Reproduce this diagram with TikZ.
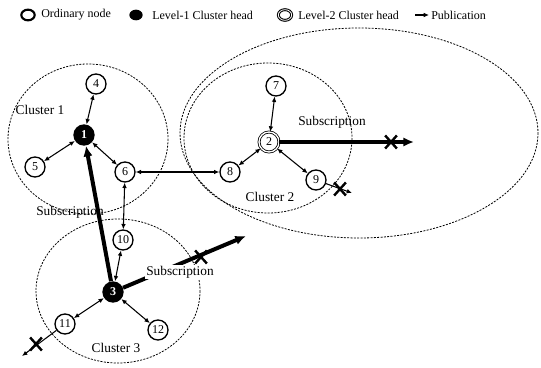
\documentclass[tikz,border=0pt]{standalone}
\usepackage{fontspec}
\setmainfont{Liberation Serif}
\usetikzlibrary{arrows.meta,shapes.misc,shapes.geometric}

\begin{document}
\begin{tikzpicture}[x=0.75pt,y=-0.75pt,
  ordinary/.style={circle,draw,line width=1pt,minimum size=15pt,inner sep=0pt,font=\small},
  headone/.style={circle,fill=black,text=white,minimum size=16pt,inner sep=0pt,font=\small\bfseries},
  headtwo/.style={circle,draw,double,line width=0.6pt,double distance=1pt,minimum size=15pt,inner sep=0pt,font=\small},
  link/.style={{Latex[length=4pt,width=3.5pt]}-{Latex[length=4pt,width=3.5pt]},line width=0.8pt},
  pub/.style={-{Latex[length=4pt,width=3.5pt]},line width=0.8pt},
  sub/.style={-{Latex[length=8pt,width=7pt]},line width=3pt},
  cluster/.style={dash pattern=on 1.5pt off 1pt,line width=0.6pt},
  cut/.style={cross out,draw,line width=1.8pt,minimum width=7pt,minimum height=8pt,inner sep=0pt},
  key/.style={ellipse,minimum width=10pt,minimum height=8pt,inner sep=0pt},
  keytext/.style={right,font=\small,inner sep=0pt}]

\useasboundingbox (0,0) rectangle (541,367);

%%% --- Legend --- %%%
\node[key,draw,line width=1.6pt] (lgo) at (28,15) {};
\node[keytext] (lgot) at (41,15) {Ordinary node};
\node[key,fill=black] (lga) at (136,15) {};
\node[keytext] (lgat) at (152,15) {Level-1 Cluster head};
\node[key,draw,double,line width=0.8pt,double distance=0.6pt] (lgb) at (285,15) {};
\node[keytext] (lgbt) at (298,15) {Level-2 Cluster head};
\coordinate (lgp) at (415,15);
\coordinate (lgq) at (429,15);
\draw[pub,line width=1.2pt] (lgp) -- (lgq);
\node[keytext] (lgpt) at (431,15) {Publication};

%%% --- Clusters --- %%%
\draw[cluster] (359,133) ellipse [x radius=179, y radius=105];
\draw[cluster] (88,139) ellipse [x radius=80, y radius=75];
\draw[cluster] (268,138) ellipse [x radius=84, y radius=75];
\draw[cluster] (118,291) ellipse [x radius=82, y radius=72];

\node (c1) at (40,110) {Cluster 1};
\node (c2) at (270,197) {Cluster 2};
\node (c3) at (116,348) {Cluster 3};

%%% --- Nodes --- %%%
\node[headone]  (n1)  at (84,135)  {1};
\node[headtwo]  (n2)  at (269,142) {2};
\node[headone]  (n3)  at (113,292) {3};
\node[ordinary] (n4)  at (96,84)   {4};
\node[ordinary] (n5)  at (35,167)  {5};
\node[ordinary] (n6)  at (125,172) {6};
\node[ordinary] (n7)  at (276,86)  {7};
\node[ordinary] (n8)  at (230,172) {8};
\node[ordinary] (n9)  at (316,180) {9};
\node[ordinary] (n10) at (123,240) {10};
\node[ordinary] (n11) at (65,324)  {11};
\node[ordinary] (n12) at (158,330) {12};

%%% --- Links inside and between clusters --- %%%
\draw[link] (n1) -- (n4);
\draw[link] (n1) -- (n5);
\draw[link] (n1) -- (n6);
\draw[link] (n2) -- (n7);
\draw[link] (n2) -- (n8);
\draw[link] (n2) -- (n9);
\draw[link] (n3) -- (n10);
\draw[link] (n3) -- (n11);
\draw[link] (n3) -- (n12);
\draw[link] (n6) -- (n8);
\draw[link] (n6) -- (n10);

%%% --- Publications leaving the network --- %%%
\coordinate (o9) at (352,193);
\coordinate (o11) at (22,356);
\draw[pub] (n9) -- (o9);
\draw[pub] (n11) -- (o11);
\node[cut] (x9) at (340,189) {};
\node[cut] (x11) at (36,344) {};

%%% --- Subscriptions --- %%%
\coordinate (s2) at (414,142);
\coordinate (s3) at (246,236);
\draw[sub,{Latex[length=8pt,width=7pt]}-] (n1) -- (n3);
\draw[sub] (n2) -- (s2);
\draw[sub] (n3) -- (s3);

\node (sl1) at (70,212)  {Subscription};
\node (sl2) at (332,122) {Subscription};
\node[fill=white,inner sep=1pt] (sl3) at (180,272) {Subscription};

\node[cut] (x2) at (391,142) {};
\node[cut] (x3) at (201,257) {};

\end{tikzpicture}
\end{document}
